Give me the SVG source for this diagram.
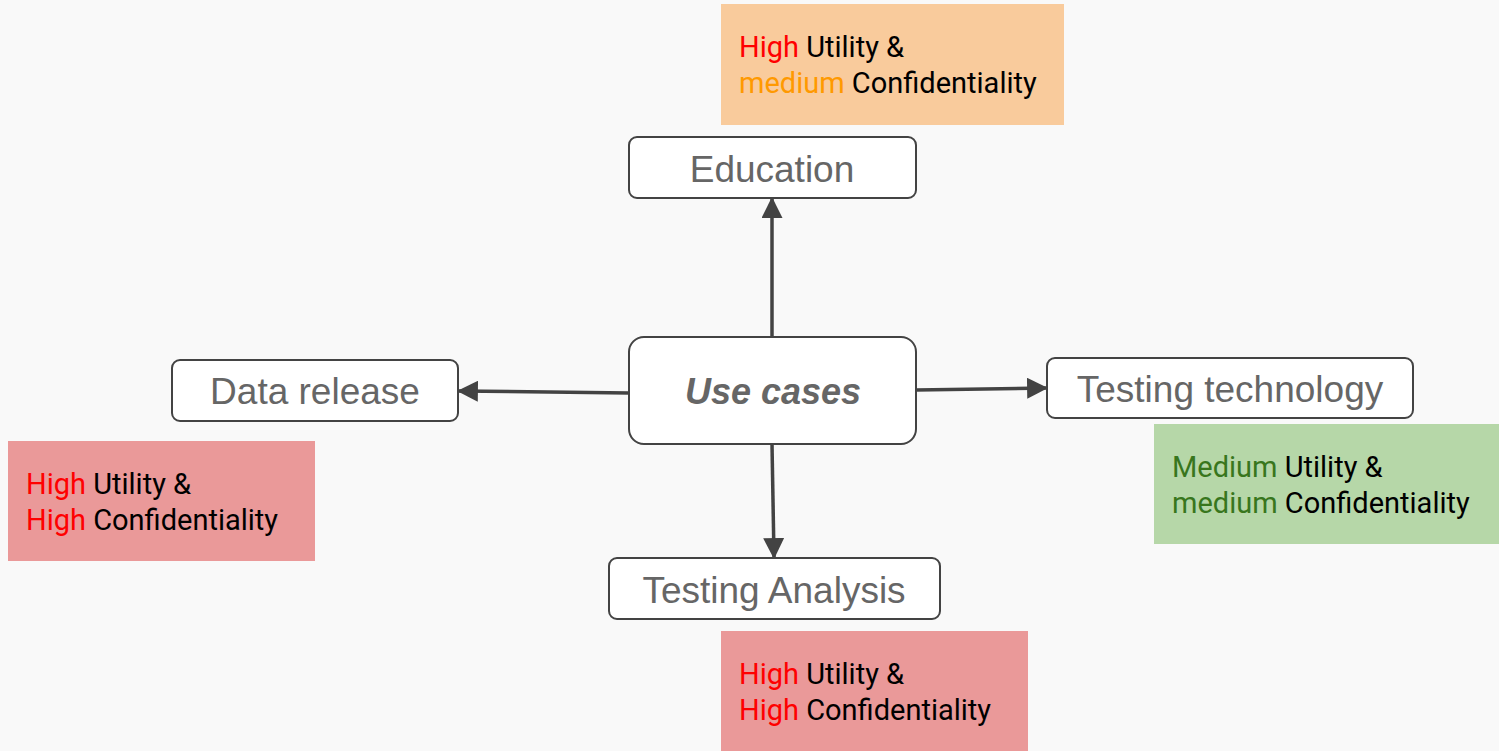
<svg xmlns="http://www.w3.org/2000/svg" width="1499" height="751" viewBox="0 0 1499 751">
  <defs>
    <marker id="arrow" viewBox="0 0 10 10" refX="9" refY="5" markerWidth="6" markerHeight="6" markerUnits="strokeWidth" orient="auto">
      <path d="M0,0 L10,5 L0,10 z" fill="#434343"/>
    </marker>
    <style>
      .node { fill: #ffffff; stroke: #434343; stroke-width: 2; }
      .label { font-family: "Liberation Sans", Arial, sans-serif; font-size: 37px; fill: #666666; text-anchor: middle; }
      .hub { font-weight: bold; font-style: italic; font-size: 36px; }
      .edge { stroke: #434343; stroke-width: 3.5; fill: none; marker-end: url(#arrow); }
      .note { font-family: Roboto, "Noto Sans", sans-serif; font-size: 29px; fill: #000000; }
      .red { fill: #ff0000; }
      .orange { fill: #ff9900; }
      .green { fill: #38761d; }
    </style>
  </defs>

  <rect width="1499" height="751" fill="#f9f9f9"/>

  <!-- rating notes -->
  <g id="note-education">
    <rect x="721" y="4" width="343" height="121" fill="#f9cb9c"/>
    <text class="note" x="739" y="57"><tspan class="red">High</tspan> Utility &amp;</text>
    <text class="note" x="739" y="93"><tspan class="orange">medium</tspan> Confidentiality</text>
  </g>
  <g id="note-data-release">
    <rect x="8" y="441" width="307" height="120" fill="#ea9999"/>
    <text class="note" x="26" y="494"><tspan class="red">High</tspan> Utility &amp;</text>
    <text class="note" x="26" y="530"><tspan class="red">High</tspan> Confidentiality</text>
  </g>
  <g id="note-testing-technology">
    <rect x="1154" y="424" width="345" height="120" fill="#b6d7a8"/>
    <text class="note" x="1172" y="477"><tspan class="green">Medium</tspan> Utility &amp;</text>
    <text class="note" x="1172" y="513"><tspan class="green">medium</tspan> Confidentiality</text>
  </g>
  <g id="note-testing-analysis">
    <rect x="721" y="631" width="307" height="120" fill="#ea9999"/>
    <text class="note" x="739" y="684"><tspan class="red">High</tspan> Utility &amp;</text>
    <text class="note" x="739" y="720"><tspan class="red">High</tspan> Confidentiality</text>
  </g>

  <!-- connectors -->
  <g id="connectors">
    <line class="edge" x1="772" y1="337" x2="772" y2="199"/>
    <line class="edge" x1="772" y1="444" x2="774" y2="557"/>
    <line class="edge" x1="629" y1="393" x2="459" y2="391"/>
    <line class="edge" x1="916" y1="390" x2="1046" y2="388"/>
  </g>

  <!-- nodes -->
  <g id="use-cases">
    <rect class="node" x="629" y="337" width="287" height="107" rx="15"/>
    <text class="label hub" x="773" y="404">Use cases</text>
  </g>
  <g id="education">
    <rect class="node" x="629" y="137" width="287" height="61" rx="8"/>
    <text class="label" x="772" y="182">Education</text>
  </g>
  <g id="data-release">
    <rect class="node" x="172" y="360" width="286" height="61" rx="8"/>
    <text class="label" x="315" y="404">Data release</text>
  </g>
  <g id="testing-technology">
    <rect class="node" x="1047" y="358" width="366" height="60" rx="8"/>
    <text class="label" x="1230" y="402">Testing technology</text>
  </g>
  <g id="testing-analysis">
    <rect class="node" x="609" y="558" width="331" height="61" rx="8"/>
    <text class="label" x="774" y="603">Testing Analysis</text>
  </g>
</svg>
